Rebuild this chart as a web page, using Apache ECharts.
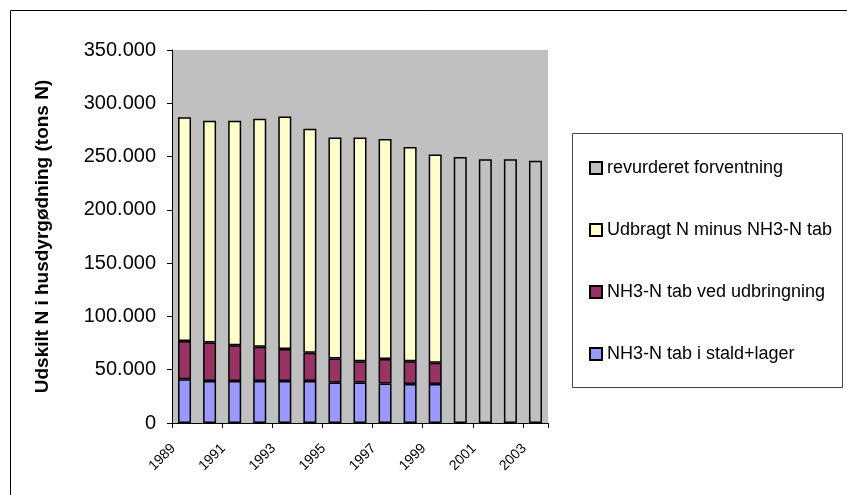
<!DOCTYPE html>
<html>
<head>
<meta charset="utf-8">
<script src="https://cdn.jsdelivr.net/npm/echarts@6/dist/echarts.min.js"></script>
<style>
  html, body { margin: 0; padding: 0; background: #fff; }
  #chart { width: 847px; height: 495px; }
</style>
</head>
<body>
<div id="chart"></div>
<script>
// Years on the category axis
const years = ['1989','1990','1991','1992','1993','1994','1995','1996','1997','1998','1999','2000','2001','2002','2003'];

// Series names (legend text)
const nameStald = 'NH3-N tab i stald+lager';
const nameUdbr = 'NH3-N tab ved udbringning';
const nameNetto = 'Udbragt N minus NH3-N tab';
const nameForv = 'revurderet forventning';

// Tonnes N per year, stacked from the bottom
const staldLager = [41000, 39500, 39500, 39500, 39500, 39500, 38000, 38000, 37000, 36500, 36500, '-', '-', '-', '-'];
const udbringning = [36000, 36000, 33500, 32000, 30000, 26500, 22500, 20000, 23000, 21500, 20000, '-', '-', '-', '-'];
const udbragtNetto = [210000, 208000, 210500, 214000, 218000, 210000, 207500, 210000, 206500, 201000, 195500, '-', '-', '-', '-'];
const forventning = ['-', '-', '-', '-', '-', '-', '-', '-', '-', '-', '-', 249500, 247500, 247500, 246000];

const yTicks = [0, 50000, 100000, 150000, 200000, 250000, 300000, 350000];

const chart = echarts.init(document.getElementById('chart'), null, { renderer: 'canvas' });

const barBase = {
  type: 'bar',
  stack: 'total',
  barWidth: 13
};

function fmt(v) {
  if (v === 0) return '0';
  const s = String(Math.round(v));
  return s.replace(/\B(?=(\d{3})+(?!\d))/g, '.');
}

chart.setOption({
  animation: false,
  backgroundColor: '#fff',
  textStyle: { fontFamily: 'Liberation Sans, Arial, sans-serif' },
  graphic: [
    { type: 'rect', shape: { x: 10.5, y: 10.5, width: 900, height: 600 },
      style: { fill: 'none', stroke: '#000', lineWidth: 1 }, silent: true, z: -1 },
    { type: 'rect', shape: { x: 572.5, y: 133.5, width: 270, height: 254 },
      style: { fill: '#fff', stroke: '#444', lineWidth: 1 }, silent: true, z: 0 }
  ],
  grid: { left: 172, right: 299, top: 50, bottom: 72, show: true, backgroundColor: '#c0c0c0', borderWidth: 0 },
  legend: {
    orient: 'vertical',
    left: 584,
    top: 153,
    z: 5,
    itemWidth: 12,
    itemHeight: 12,
    itemGap: 42,
    icon: 'rect',
    data: [nameForv, nameNetto, nameUdbr, nameStald],
    textStyle: { fontSize: 18, color: '#000', lineHeight: 20,
      fontFamily: 'Liberation Sans, Arial, sans-serif' }
  },
  xAxis: {
    type: 'category',
    data: years,
    axisLine: { lineStyle: { color: '#000', width: 1 } },
    axisTick: { show: true, length: 5, lineStyle: { color: '#000' } },
    axisLabel: { interval: 1, rotate: 45, fontSize: 14, color: '#000', margin: 12, padding: [0, 16, 0, 0] }
  },
  yAxis: {
    type: 'value',
    min: 0,
    max: 350000,
    interval: 50000,
    name: 'Udskilt N i husdyrgødning (tons N)',
    nameLocation: 'middle',
    nameGap: 120,
    nameTextStyle: { fontSize: 19, fontWeight: 'bold', color: '#000' },
    axisLine: { show: true, lineStyle: { color: '#000', width: 1 } },
    axisTick: { show: true, length: 5, lineStyle: { color: '#000' } },
    splitLine: { show: false },
    axisLabel: { fontSize: 20, color: '#000', margin: 16, formatter: fmt, customValues: yTicks }
  },
  series: [
    Object.assign({}, barBase, { name: nameStald, data: staldLager,
      itemStyle: { color: '#9999ff', borderColor: '#000', borderWidth: 1.5 } }),
    Object.assign({}, barBase, { name: nameUdbr, data: udbringning,
      itemStyle: { color: '#993366', borderColor: '#000', borderWidth: 1.5 } }),
    Object.assign({}, barBase, { name: nameNetto, data: udbragtNetto,
      itemStyle: { color: '#ffffcc', borderColor: '#000', borderWidth: 1.5 } }),
    Object.assign({}, barBase, { name: nameForv, data: forventning,
      itemStyle: { color: '#c0c0c0', borderColor: '#000', borderWidth: 1.5 } })
  ]
});
</script>
</body>
</html>
